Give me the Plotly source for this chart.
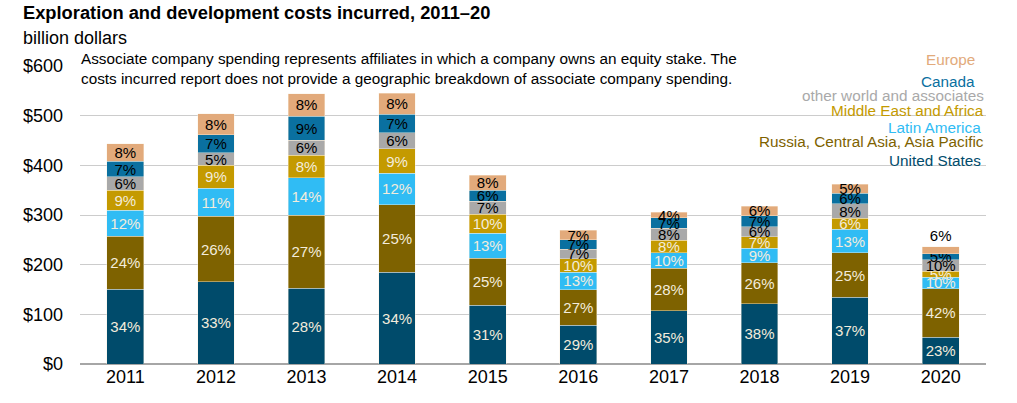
import plotly.graph_objects as go

years = ["2011", "2012", "2013", "2014", "2015", "2016", "2017", "2018", "2019", "2020"]

# billion dollars, by region
united_states = [151, 166, 153, 185, 118, 78, 107, 121, 134, 54]
russia_casia_apac = [106, 131, 147, 136, 95, 72, 86, 83, 90, 98]
latin_america = [53, 57, 75, 63, 50, 35, 31, 29, 47, 23]
middle_east_africa = [40, 46, 45, 49, 39, 27, 25, 23, 22, 12]
other_world_assoc = [27, 25, 31, 33, 26, 19, 24, 20, 30, 23]
canada = [31, 37, 48, 37, 22, 19, 21, 23, 21, 12]
europe = [35, 42, 45, 42, 30, 19, 12, 19, 18, 14]

y_ticks = [0, 100, 200, 300, 400, 500, 600]
y_tick_labels = ["$0", "$100", "$200", "$300", "$400", "$500", "$600"]

series = [
    ("United States", united_states, "#004b6b", "#f3ecdc"),
    ("Russia, Central Asia, Asia Pacific", russia_casia_apac, "#7e6200", "#f3ecdc"),
    ("Latin America", latin_america, "#30bcf4", "#f3ecdc"),
    ("Middle East and Africa", middle_east_africa, "#c49a00", "#f3ecdc"),
    ("other world and associates", other_world_assoc, "#a9a9a9", "#000000"),
    ("Canada", canada, "#0a70a0", "#000000"),
    ("Europe", europe, "#e2aa7b", "#000000"),
]

totals = [sum(s[1][i] for s in series) for i in range(len(years))]

FONT = "Liberation Sans, Arial, sans-serif"

fig = go.Figure()
for name, vals, color, tcolor in series:
    txt = [f"{round(v / t * 100)}%" for v, t in zip(vals, totals)]
    if name == "Europe":
        tpos = ["inside"] * (len(years) - 1) + ["outside"]
    else:
        tpos = "inside"
    fig.add_trace(go.Bar(
        x=years, y=vals, name=name,
        marker=dict(color=color, line=dict(color="rgba(250,240,225,0.7)", width=0.6)),
        text=txt, textposition=tpos, insidetextanchor="middle",
        textangle=0, constraintext="none", cliponaxis=False,
        textfont=dict(family=FONT, size=15, color=tcolor),
        hoverinfo="skip",
    ))

fig.update_layout(
    barmode="stack",
    bargap=0.595,
    width=1017, height=403,
    margin=dict(l=80, r=31, t=66, b=39),
    paper_bgcolor="white", plot_bgcolor="white",
    showlegend=False,
    uniformtext=dict(minsize=15, mode="show"),
    font=dict(family=FONT, color="#000000"),
)

fig.update_yaxes(
    range=[0, 600], tickvals=y_ticks, ticktext=y_tick_labels,
    showgrid=True, gridcolor="#cccccc", gridwidth=1.4,
    zeroline=True, zerolinecolor="#a6a6a6", zerolinewidth=2,
    showline=False, ticks="", ticklabelstandoff=16,
    tickfont=dict(family=FONT, size=18, color="#000000"),
)
fig.update_xaxes(
    showgrid=False, showline=False, ticks="",
    tickfont=dict(family=FONT, size=18, color="#000000"),
)

PLOT_TOP, PLOT_BOTTOM, PLOT_H, PLOT_L, PLOT_W = 66, 364, 298, 80, 906

def py(ypix):
    return (PLOT_BOTTOM - ypix) / PLOT_H

def px(xpix):
    return (xpix - PLOT_L) / PLOT_W

# Titles
fig.add_annotation(text="<b>Exploration and development costs incurred, 2011–20</b>",
                   xref="paper", yref="paper", x=px(21), y=py(0),
                   xanchor="left", yanchor="top", showarrow=False,
                   font=dict(family=FONT, size=18.3, color="#000000"))
fig.add_annotation(text="billion dollars",
                   xref="paper", yref="paper", x=px(21), y=py(26),
                   xanchor="left", yanchor="top", showarrow=False,
                   font=dict(family=FONT, size=18, color="#000000"))

# Note
fig.add_annotation(text="Associate company spending represents affiliates in which a company owns an equity stake. The<br>"
                        "costs incurred report does not provide a geographic breakdown of associate company spending.",
                   xref="paper", yref="paper", x=px(79), y=py(48),
                   xanchor="left", yanchor="top", align="left", showarrow=False,
                   font=dict(family=FONT, size=15.3, color="#000000"))

# Legend as right-aligned colored text
legend_items = [
    ("Europe", "#e2aa7b", 60, 977),
    ("Canada", "#0a70a0", 81, 977),
    ("other world and associates", "#a9a9a9", 96, 986),
    ("Middle East and Africa", "#c49a00", 111, 986),
    ("Latin America", "#30bcf4", 127, 983),
    ("Russia, Central Asia, Asia Pacific", "#7e6200", 141, 986),
    ("United States", "#004b6b", 160, 983),
]
for label, color, ypix, xpix in legend_items:
    fig.add_annotation(text=label, xref="paper", yref="paper",
                       x=px(xpix), y=py(ypix),
                       xanchor="right", yanchor="middle", showarrow=False,
                       font=dict(family=FONT, size=15.3, color=color))

fig.write_html("out.html")
